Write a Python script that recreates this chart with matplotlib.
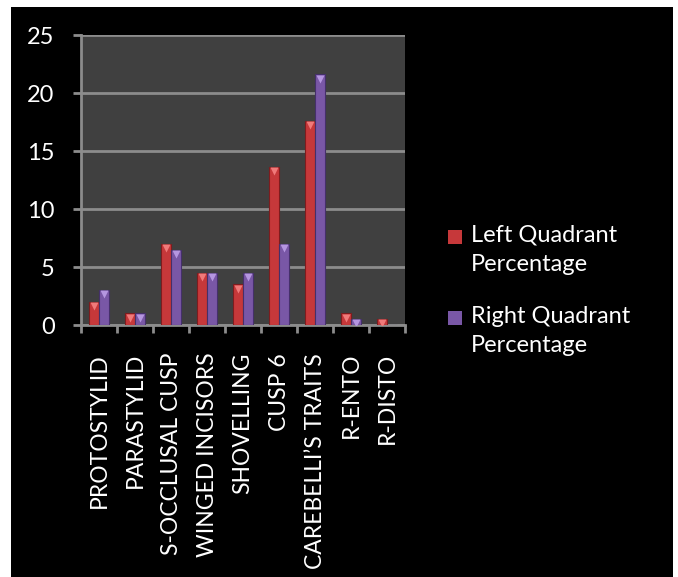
import numpy as np
import matplotlib
matplotlib.use('Agg')
import matplotlib.pyplot as plt
from matplotlib.patches import Rectangle
from matplotlib.transforms import offset_copy

plt.rcParams['font.family'] = ['Lato', 'DejaVu Sans']

# datos
categories = ['PROTOSTYLID', 'PARASTYLID', 'S-OCCLUSAL CUSP', 'WINGED INCISORS',
              'SHOVELLING', 'CUSP 6', 'CAREBELLI\u2019S TRAITS', 'R-ENTO', 'R-DISTO']
left_pct = [2, 1, 7, 4.5, 3.5, 13.6, 17.6, 1, 0.5]
right_pct = [3, 1, 6.5, 4.5, 4.5, 7, 21.6, 0.5, 0]
series_names = ['Left Quadrant\nPercentage', 'Right Quadrant\nPercentage']
y_ticks = [0, 5, 10, 15, 20, 25]

red = '#c6383a'
purple = '#7957a6'
red_top = '#f07a7a'
purple_top = '#b596e0'
grid_col = '#8c8c8c'

fig = plt.figure(figsize=(6.78, 5.77), dpi=100, facecolor='white')
# fondo negro con borde blanco
fig.patches.append(Rectangle((11 / 678, 0), 662 / 678, 570 / 577,
                             transform=fig.transFigure, facecolor='black',
                             edgecolor='none', zorder=-10))

ax = fig.add_axes([81 / 678, 1 - 325 / 577, 324 / 678, 290 / 577])
ax.set_facecolor('#404040')

x = np.arange(len(categories))
w = 0.29
series = [(left_pct, -w / 2, red, '#7e1c1e', red_top),
          (right_pct, w / 2, purple, '#45306a', purple_top)]
shifted = offset_copy(ax.transData, fig=fig, x=0, y=-3, units='points')
for vals, off, col, edge, top in series:
    ax.bar(x + off, vals, w, color=col, edgecolor=edge, linewidth=0.8, zorder=3)
    # brillo en la parte superior de cada barra
    xs = [xi + off for xi, v in zip(x, vals) if v > 0]
    ys = [v for v in vals if v > 0]
    ax.plot(xs, ys, linestyle='none', marker='v', markersize=6, transform=shifted,
            markerfacecolor=top, markeredgecolor='none', zorder=4)

ax.set_xlim(-0.5, len(categories) - 0.5)
ax.set_ylim(0, 25)
ax.set_yticks(y_ticks)
ax.set_yticklabels([str(t) for t in y_ticks])
ax.yaxis.grid(True, color=grid_col, linewidth=2, zorder=1)
ax.set_axisbelow(True)

ax.set_xticks(x)
ax.set_xticklabels(categories, rotation=90, va='top', ha='center')
ax.set_xticks(np.arange(len(categories) + 1) - 0.5, minor=True)
ax.tick_params(axis='x', which='major', length=0, pad=20, labelsize=16.5, colors='white')
ax.tick_params(axis='x', which='minor', length=6, width=2, color=grid_col, direction='out')
ax.tick_params(axis='y', length=6, width=2, color=grid_col, pad=13, labelsize=17,
               labelcolor='white')

for s in ['top', 'right']:
    ax.spines[s].set_visible(False)
for s in ['left', 'bottom']:
    ax.spines[s].set_color(grid_col)
    ax.spines[s].set_linewidth(2)

# leyenda manual: cuadro alineado con la primera linea del texto
leg_tops = [237, 318]
for name, col, top, yc in zip(series_names, [red, purple], [red_top, purple_top], leg_tops):
    fy = 1 - yc / 577
    fig.patches.append(Rectangle((448 / 678, fy - 7 / 577), 14 / 678, 14 / 577,
                                 transform=fig.transFigure, facecolor=col,
                                 edgecolor='none'))
    fig.text(471 / 678, fy + 12 / 577, name, color='white', fontsize=17,
             va='top', ha='left', linespacing=1.45)

plt.savefig('out.png', dpi=100, facecolor=fig.get_facecolor())
